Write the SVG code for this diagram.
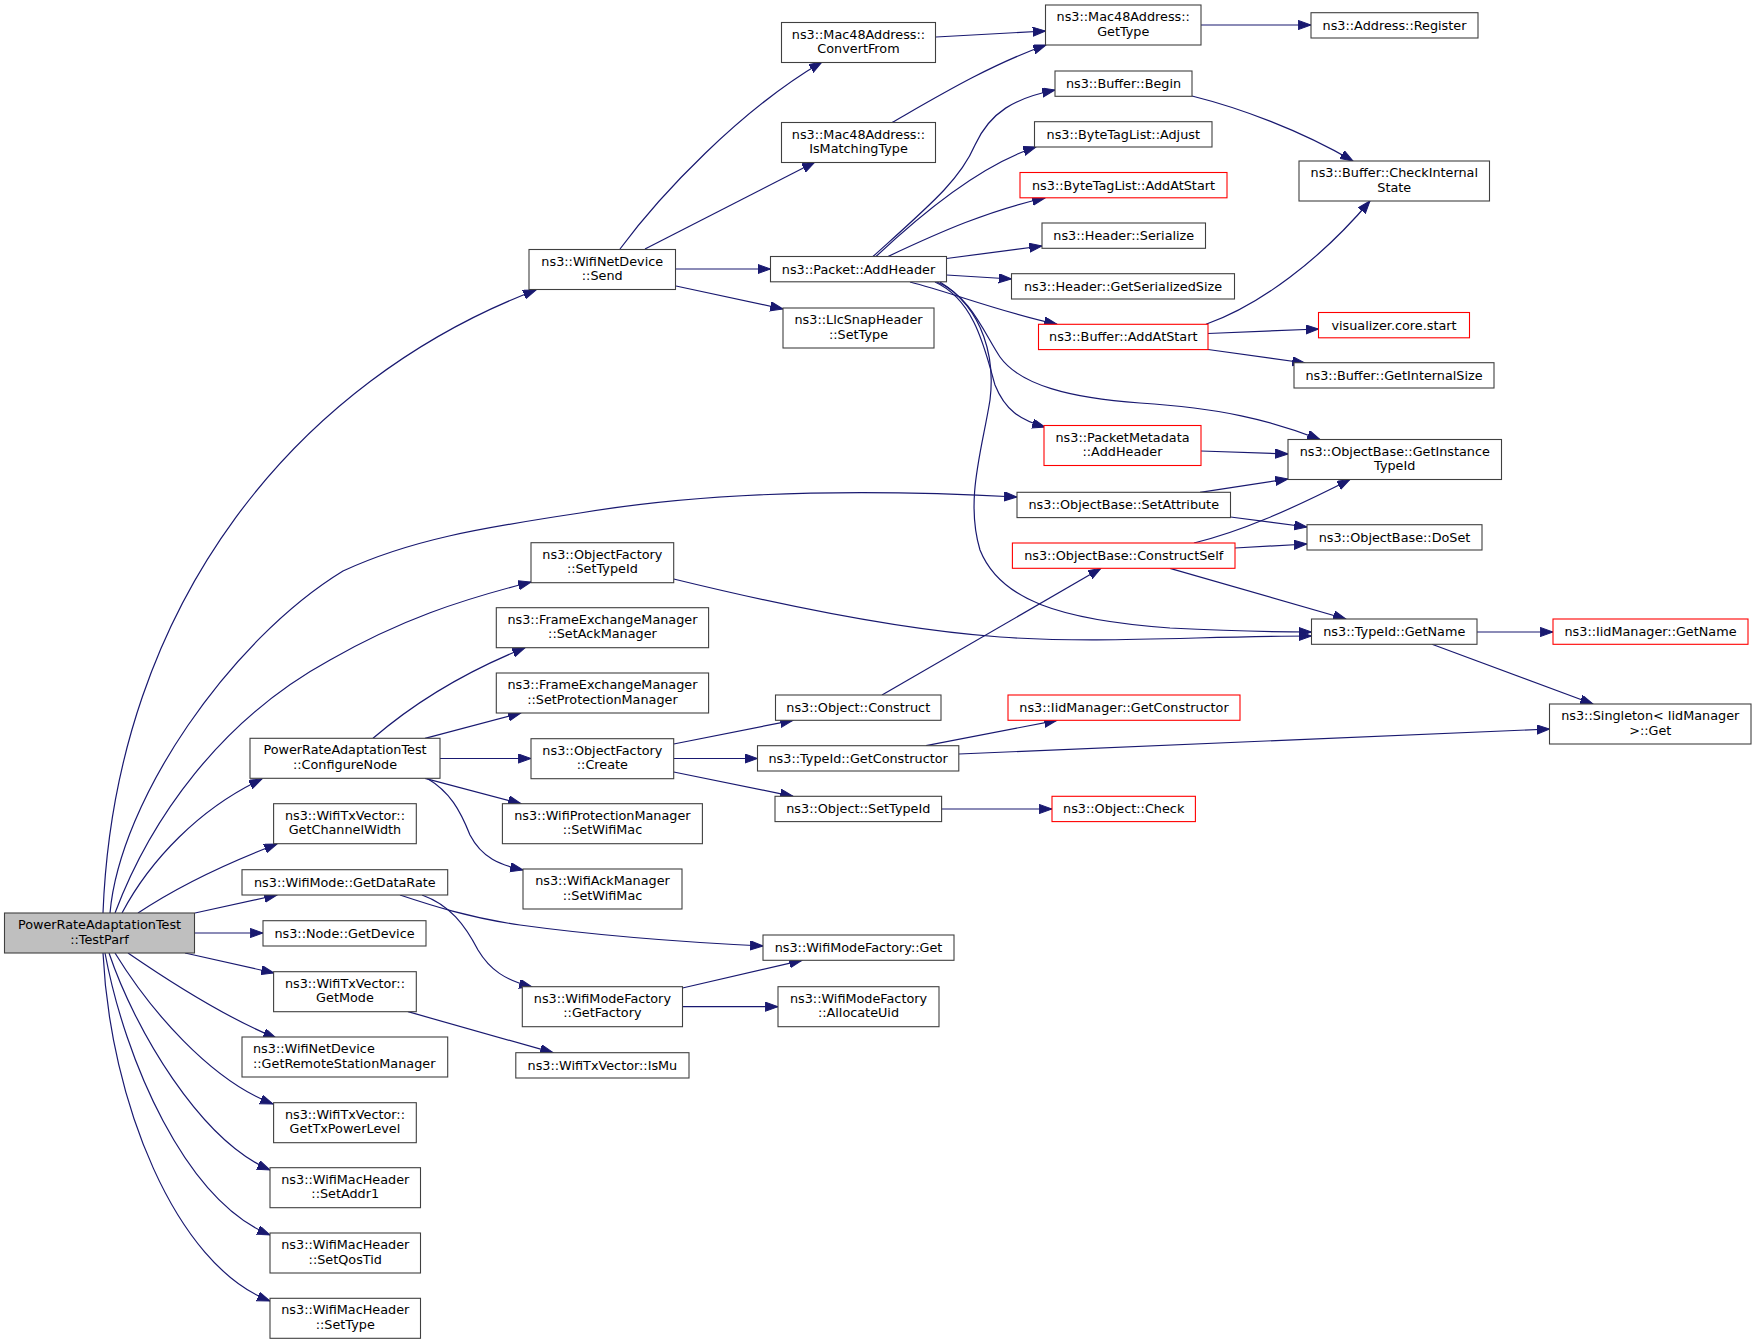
<svg xmlns="http://www.w3.org/2000/svg" width="1757" height="1344" viewBox="0 0 1757 1344">
<style>
.node rect{fill:#ffffff;stroke:#404040;stroke-width:1.1}
.node.red rect{stroke:#ff0000}
.node.root rect{fill:#bfbfbf;stroke:#404040}
.node text{font-family:"DejaVu Sans","Liberation Sans",sans-serif;font-size:12.8px;fill:#000;text-anchor:middle}
.node text.l{text-anchor:start}
#edges path{fill:none;stroke:#191970;stroke-width:1.2;marker-end:url(#arr)}
</style>
<defs>
<marker id="arr" markerUnits="userSpaceOnUse" markerWidth="14" markerHeight="10" refX="12.8" refY="4.6" orient="auto">
<path d="M0,0 L12.8,4.6 L0,9.2 z" fill="#191970" stroke="#191970" stroke-width="1"/>
</marker>
</defs>
<rect width="1757" height="1344" fill="#ffffff"/>
<g id="edges">
<path d="M103,913 C115,600 300,380 536,290"/>
<path d="M110,913 C120,800 230,640 343,571 C410,540 480,528 580,513 C700,493 850,488 1017,497"/>
<path d="M115,913 C150,820 220,720 330,660 C400,620 460,600 531,582"/>
<path d="M122,913 C150,860 200,808 262,779"/>
<path d="M138,913 C180,885 230,862 277,844"/>
<path d="M195,913 L277,895"/>
<path d="M195,933 L263,933"/>
<path d="M185,953 L274,973"/>
<path d="M128,953 C160,975 220,1015 276,1038"/>
<path d="M115,953 C150,1010 210,1080 273,1104"/>
<path d="M109,953 C135,1030 200,1140 270,1170"/>
<path d="M105,953 C125,1060 185,1200 270,1235"/>
<path d="M103,953 C110,1100 175,1265 270,1301"/>
<path d="M620,249 C660,195 740,110 822,62"/>
<path d="M645,249 L815,162"/>
<path d="M675.5,269 L770.5,269"/>
<path d="M676,286 L783,309"/>
<path d="M936,37 L1045.5,31"/>
<path d="M892,122.5 C940,95 990,65 1046,45"/>
<path d="M1201,25 L1311,25"/>
<path d="M873,256.5 C930,205 960,180 975,145 C990,112 1015,98 1055,90"/>
<path d="M876,256.5 C920,215 980,165 1036,147"/>
<path d="M888,256.5 C940,232 990,210 1045,198"/>
<path d="M946.5,258.5 L1042,246"/>
<path d="M946.5,275 L1011.5,279"/>
<path d="M910,282 C950,292 1000,312 1057,324.3"/>
<path d="M935,282 C975,300 985,350 995,385 C1005,410 1020,420 1045,427"/>
<path d="M937,282 C970,295 985,335 1000,357 C1020,385 1070,398 1140,403 C1220,408 1270,420 1320,439.5"/>
<path d="M940,282 C985,310 995,360 990,400 C982,450 965,500 980,550 C1000,600 1060,620 1170,628 C1230,631 1270,632 1311.5,632"/>
<path d="M1192,96 C1240,108 1300,130 1353,161"/>
<path d="M1206,324.3 C1260,305 1320,260 1370,201"/>
<path d="M1208,333.5 L1318.5,329"/>
<path d="M1208,349.5 L1305,363"/>
<path d="M1201,451 L1288,454"/>
<path d="M1200,492.3 L1288,479"/>
<path d="M1230.5,517 L1307,527"/>
<path d="M1194,543 C1240,532 1290,510 1350,479.5"/>
<path d="M1235,548 L1307,544"/>
<path d="M1170,568.3 L1346,619"/>
<path d="M1477,632 L1553,632"/>
<path d="M1432,644.3 L1593,704"/>
<path d="M673.7,579 C780,605 900,630 1000,637 C1100,644 1200,636 1311.5,636"/>
<path d="M373,738.3 C400,715 450,678 525,647.7"/>
<path d="M425,738.3 L521,713"/>
<path d="M440,758.5 L531,758.5"/>
<path d="M425,778.3 L521,803.7"/>
<path d="M427,778.3 C450,792 460,810 470,835 C482,858 500,865 523,870"/>
<path d="M673.7,744 L793,720.3"/>
<path d="M673.7,758.5 L757.5,758.5"/>
<path d="M673.7,772 L793,796.3"/>
<path d="M882,695 L1101,568.3"/>
<path d="M926,745.7 L1057,720.3"/>
<path d="M959,754 L1549.5,729"/>
<path d="M941.6,809 L1052,809"/>
<path d="M400,895 C430,905 470,918 520,925 C600,936 680,942 763,946"/>
<path d="M422,895 C450,905 465,925 478,950 C490,970 505,980 532,987"/>
<path d="M682.5,988 L802,960.3"/>
<path d="M682.5,1006.7 L778,1006.7"/>
<path d="M408,1011.7 L553,1052.7"/>
</g>
<g id="n_testparf" class="node root"><rect x="4.5" y="913" width="190" height="40"/><text x="99.5" y="929">PowerRateAdaptationTest</text><text x="99.5" y="943.5">::TestParf</text></g>
<g id="n_send" class="node"><rect x="529" y="249.5" width="146.5" height="40"/><text x="602.25" y="265.5">ns3::WifiNetDevice</text><text x="602.25" y="280">::Send</text></g>
<g id="n_convertfrom" class="node"><rect x="781.5" y="22.5" width="154" height="40"/><text x="858.5" y="38.5">ns3::Mac48Address::</text><text x="858.5" y="53">ConvertFrom</text></g>
<g id="n_gettype" class="node"><rect x="1045.5" y="5" width="155.5" height="40"/><text x="1123.25" y="21">ns3::Mac48Address::</text><text x="1123.25" y="35.5">GetType</text></g>
<g id="n_register" class="node"><rect x="1311" y="12.7" width="167" height="25.3"/><text x="1394.5" y="29.7">ns3::Address::Register</text></g>
<g id="n_ismatchingtype" class="node"><rect x="781.5" y="122.5" width="154" height="40"/><text x="858.5" y="138.5">ns3::Mac48Address::</text><text x="858.5" y="153">IsMatchingType</text></g>
<g id="n_bufferbegin" class="node"><rect x="1055" y="71" width="137" height="25.3"/><text x="1123.5" y="88">ns3::Buffer::Begin</text></g>
<g id="n_adjust" class="node"><rect x="1034.5" y="121.7" width="177.5" height="25.3"/><text x="1123.25" y="138.7">ns3::ByteTagList::Adjust</text></g>
<g id="n_btladdatstart" class="node red"><rect x="1020" y="172.5" width="207" height="25.3"/><text x="1123.5" y="189.5">ns3::ByteTagList::AddAtStart</text></g>
<g id="n_serialize" class="node"><rect x="1042" y="223" width="163.5" height="25.3"/><text x="1123.75" y="240">ns3::Header::Serialize</text></g>
<g id="n_getserializedsize" class="node"><rect x="1011.5" y="273.7" width="223" height="25.3"/><text x="1123" y="290.7">ns3::Header::GetSerializedSize</text></g>
<g id="n_bufaddatstart" class="node red"><rect x="1038.5" y="324.3" width="169.5" height="25.3"/><text x="1123.25" y="341.3">ns3::Buffer::AddAtStart</text></g>
<g id="n_pmaddheader" class="node red"><rect x="1044" y="425.5" width="157" height="40"/><text x="1122.5" y="441.5">ns3::PacketMetadata</text><text x="1122.5" y="456">::AddHeader</text></g>
<g id="n_packetaddheader" class="node"><rect x="770.5" y="256.5" width="176" height="25.3"/><text x="858.5" y="273.5">ns3::Packet::AddHeader</text></g>
<g id="n_llcsettype" class="node"><rect x="783" y="308" width="151" height="40"/><text x="858.5" y="324">ns3::LlcSnapHeader</text><text x="858.5" y="338.5">::SetType</text></g>
<g id="n_checkinternalstate" class="node"><rect x="1299" y="161" width="190.5" height="40"/><text x="1394.25" y="177">ns3::Buffer::CheckInternal</text><text x="1394.25" y="191.5">State</text></g>
<g id="n_visualizer" class="node red"><rect x="1318.5" y="312.5" width="151" height="25.3"/><text x="1394" y="329.5">visualizer.core.start</text></g>
<g id="n_getinternalsize" class="node"><rect x="1294" y="362.7" width="200" height="25.3"/><text x="1394" y="379.7">ns3::Buffer::GetInternalSize</text></g>
<g id="n_getinstancetypeid" class="node"><rect x="1288" y="439.5" width="213.5" height="40"/><text x="1394.75" y="455.5">ns3::ObjectBase::GetInstance</text><text x="1394.75" y="470">TypeId</text></g>
<g id="n_setattribute" class="node"><rect x="1017" y="492.3" width="213.5" height="25.3"/><text x="1123.75" y="509.3">ns3::ObjectBase::SetAttribute</text></g>
<g id="n_doset" class="node"><rect x="1307" y="524.7" width="175" height="25.3"/><text x="1394.5" y="541.7">ns3::ObjectBase::DoSet</text></g>
<g id="n_constructself" class="node red"><rect x="1012.4" y="543" width="222.6" height="25.3"/><text x="1123.7" y="560">ns3::ObjectBase::ConstructSelf</text></g>
<g id="n_typeidgetname" class="node"><rect x="1311.5" y="619" width="165.5" height="25.3"/><text x="1394.25" y="636">ns3::TypeId::GetName</text></g>
<g id="n_iidgetname" class="node red"><rect x="1553" y="619" width="195" height="25.3"/><text x="1650.5" y="636">ns3::IidManager::GetName</text></g>
<g id="n_singletonget" class="node"><rect x="1549.5" y="704" width="201.5" height="40"/><text x="1650.25" y="720">ns3::Singleton&lt; IidManager</text><text x="1650.25" y="734.5">&gt;::Get</text></g>
<g id="n_ofsettypeid" class="node"><rect x="531" y="542.7" width="142.7" height="40"/><text x="602.35" y="558.7">ns3::ObjectFactory</text><text x="602.35" y="573.2">::SetTypeId</text></g>
<g id="n_setackmanager" class="node"><rect x="496.3" y="607.7" width="212.3" height="40"/><text x="602.45" y="623.7">ns3::FrameExchangeManager</text><text x="602.45" y="638.2">::SetAckManager</text></g>
<g id="n_setprotectionmanager" class="node"><rect x="496.3" y="673" width="212.3" height="40"/><text x="602.45" y="689">ns3::FrameExchangeManager</text><text x="602.45" y="703.5">::SetProtectionManager</text></g>
<g id="n_objectconstruct" class="node"><rect x="775.5" y="695" width="165.5" height="25.3"/><text x="858.25" y="712">ns3::Object::Construct</text></g>
<g id="n_iidgetconstructor" class="node red"><rect x="1008" y="695" width="232" height="25.3"/><text x="1124" y="712">ns3::IidManager::GetConstructor</text></g>
<g id="n_configurenode" class="node"><rect x="250" y="738.3" width="190" height="40"/><text x="345" y="754.3">PowerRateAdaptationTest</text><text x="345" y="768.8">::ConfigureNode</text></g>
<g id="n_ofcreate" class="node"><rect x="531" y="738.7" width="142.7" height="40"/><text x="602.35" y="754.7">ns3::ObjectFactory</text><text x="602.35" y="769.2">::Create</text></g>
<g id="n_getconstructor" class="node"><rect x="757.5" y="745.7" width="201.3" height="25.3"/><text x="858.15" y="762.7">ns3::TypeId::GetConstructor</text></g>
<g id="n_objectsettypeid" class="node"><rect x="775" y="796.3" width="166.6" height="25.3"/><text x="858.3" y="813.3">ns3::Object::SetTypeId</text></g>
<g id="n_objectcheck" class="node red"><rect x="1052" y="796.3" width="143.4" height="25.3"/><text x="1123.7" y="813.3">ns3::Object::Check</text></g>
<g id="n_getchannelwidth" class="node"><rect x="273.6" y="803.7" width="142.7" height="40"/><text x="344.95" y="819.7">ns3::WifiTxVector::</text><text x="344.95" y="834.2">GetChannelWidth</text></g>
<g id="n_wpmsetwifimac" class="node"><rect x="502.4" y="803.7" width="200" height="40"/><text x="602.4" y="819.7">ns3::WifiProtectionManager</text><text x="602.4" y="834.2">::SetWifiMac</text></g>
<g id="n_getdatarate" class="node"><rect x="242" y="869.7" width="205.7" height="25.3"/><text x="344.85" y="886.7">ns3::WifiMode::GetDataRate</text></g>
<g id="n_wamsetwifimac" class="node"><rect x="523" y="869" width="159" height="40"/><text x="602.5" y="885">ns3::WifiAckManager</text><text x="602.5" y="899.5">::SetWifiMac</text></g>
<g id="n_nodegetdevice" class="node"><rect x="263" y="920.7" width="163" height="25.3"/><text x="344.5" y="937.7">ns3::Node::GetDevice</text></g>
<g id="n_wmfget" class="node"><rect x="763" y="935" width="191" height="25.3"/><text x="858.5" y="952">ns3::WifiModeFactory::Get</text></g>
<g id="n_getmode" class="node"><rect x="273.6" y="971.7" width="142.7" height="40"/><text x="344.95" y="987.7">ns3::WifiTxVector::</text><text x="344.95" y="1002.2">GetMode</text></g>
<g id="n_getfactory" class="node"><rect x="522.3" y="986.7" width="160.2" height="40"/><text x="602.4" y="1002.7">ns3::WifiModeFactory</text><text x="602.4" y="1017.2">::GetFactory</text></g>
<g id="n_allocateuid" class="node"><rect x="778" y="986.7" width="161" height="40"/><text x="858.5" y="1002.7">ns3::WifiModeFactory</text><text x="858.5" y="1017.2">::AllocateUid</text></g>
<g id="n_getremotestationmanager" class="node"><rect x="242" y="1037" width="205.7" height="40"/><text class="l" x="253" y="1053">ns3::WifiNetDevice</text><text class="l" x="253" y="1067.5">::GetRemoteStationManager</text></g>
<g id="n_ismu" class="node"><rect x="515.8" y="1052.7" width="173.2" height="25.3"/><text x="602.4" y="1069.7">ns3::WifiTxVector::IsMu</text></g>
<g id="n_gettxpowerlevel" class="node"><rect x="273.6" y="1102.7" width="142.7" height="40"/><text x="344.95" y="1118.7">ns3::WifiTxVector::</text><text x="344.95" y="1133.2">GetTxPowerLevel</text></g>
<g id="n_setaddr1" class="node"><rect x="270" y="1167.7" width="150.5" height="40"/><text x="345.25" y="1183.7">ns3::WifiMacHeader</text><text x="345.25" y="1198.2">::SetAddr1</text></g>
<g id="n_setqostid" class="node"><rect x="270" y="1233" width="150.5" height="40"/><text x="345.25" y="1249">ns3::WifiMacHeader</text><text x="345.25" y="1263.5">::SetQosTid</text></g>
<g id="n_settype" class="node"><rect x="270" y="1298.3" width="150.5" height="40"/><text x="345.25" y="1314.3">ns3::WifiMacHeader</text><text x="345.25" y="1328.8">::SetType</text></g>
</svg>
